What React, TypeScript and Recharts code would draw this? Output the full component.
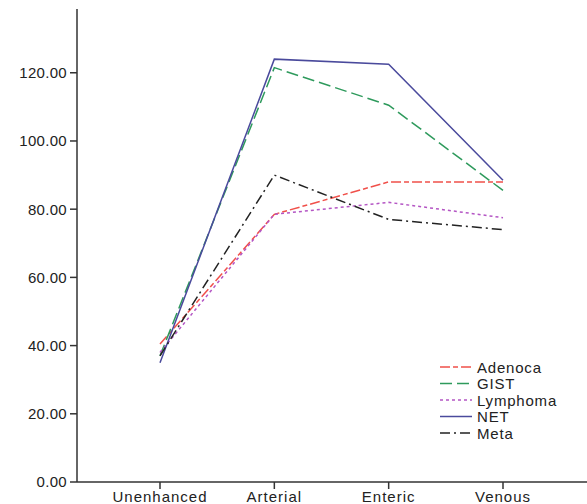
import React from 'react';
import { LineChart, Line, XAxis, YAxis } from 'recharts';

const phases = ['Unenhanced', 'Arterial', 'Enteric', 'Venous'];
const adenoca = [40.5, 78.5, 88, 88];
const gist = [37, 121.5, 110.5, 85.5];
const lymphoma = [38, 78.5, 82, 77.5];
const net = [35, 124, 122.5, 88.5];
const meta = [37, 90, 77, 74];
const yTicks = [0, 20, 40, 60, 80, 100, 120];

const seriesDefs = [
  { key: 'Adenoca', values: adenoca, color: '#f0504a', dash: '10 3 5 3', width: 1.5 },
  { key: 'GIST', values: gist, color: '#2e9a5c', dash: '12 5', width: 1.5 },
  { key: 'Lymphoma', values: lymphoma, color: '#b455c4', dash: '3 3', width: 1.5 },
  { key: 'NET', values: net, color: '#4a4a9c', dash: undefined as string | undefined, width: 1.5 },
  { key: 'Meta', values: meta, color: '#222222', dash: '10 4 2 4', width: 1.5 },
];

const data = phases.map((p, i) => {
  const row: Record<string, number | string> = { phase: p };
  seriesDefs.forEach((s) => { row[s.key] = s.values[i]; });
  return row;
});

const FONT = 'Liberation Sans, Arial, sans-serif';

const LegendOverlay = () => (
  <svg width={140} height={90} style={{ position: 'absolute', left: 436, top: 358, display: 'block' }}>
    {seriesDefs.map((s, i) => (
      <g key={s.key}>
        <line x1={4} x2={36} y1={9 + i * 16.5} y2={9 + i * 16.5} stroke={s.color} strokeWidth={1.5} strokeDasharray={s.dash} />
        <text x={41} y={14.5 + i * 16.5} fontSize={15} letterSpacing={0.8} fontFamily={FONT} fill="#222">{s.key}</text>
      </g>
    ))}
  </svg>
);

export default function App() {
  return (
    <div style={{ position: 'absolute', left: 0, top: 0, width: 587, height: 504, background: '#fff' }}>
      <LineChart width={587} height={504} data={data} margin={{ top: 9, right: 0, left: 0, bottom: 0 }}>
        <XAxis
          dataKey="phase"
          padding={{ left: 83, right: 84 }}
          height={22}
          tickSize={7}
          tickMargin={2}
          stroke="#333"
          strokeWidth={1.5}
          tick={{ fill: '#222', fontSize: 15, letterSpacing: 1, fontFamily: FONT }}
        />
        <YAxis
          domain={[0, 138.7]}
          ticks={yTicks}
          width={77}
          tickSize={7}
          tickMargin={3}
          stroke="#333"
          strokeWidth={1.5}
          tickFormatter={(v: number) => v.toFixed(2)}
          tick={{ fill: '#222', fontSize: 15, letterSpacing: 0.3, fontFamily: FONT }}
        />
        {seriesDefs.map((s) => (
          <Line
            key={s.key}
            type="linear"
            dataKey={s.key}
            stroke={s.color}
            strokeWidth={s.width}
            strokeDasharray={s.dash}
            dot={false}
            activeDot={false}
            isAnimationActive={false}
          />
        ))}
      </LineChart>
      <LegendOverlay />
    </div>
  );
}
